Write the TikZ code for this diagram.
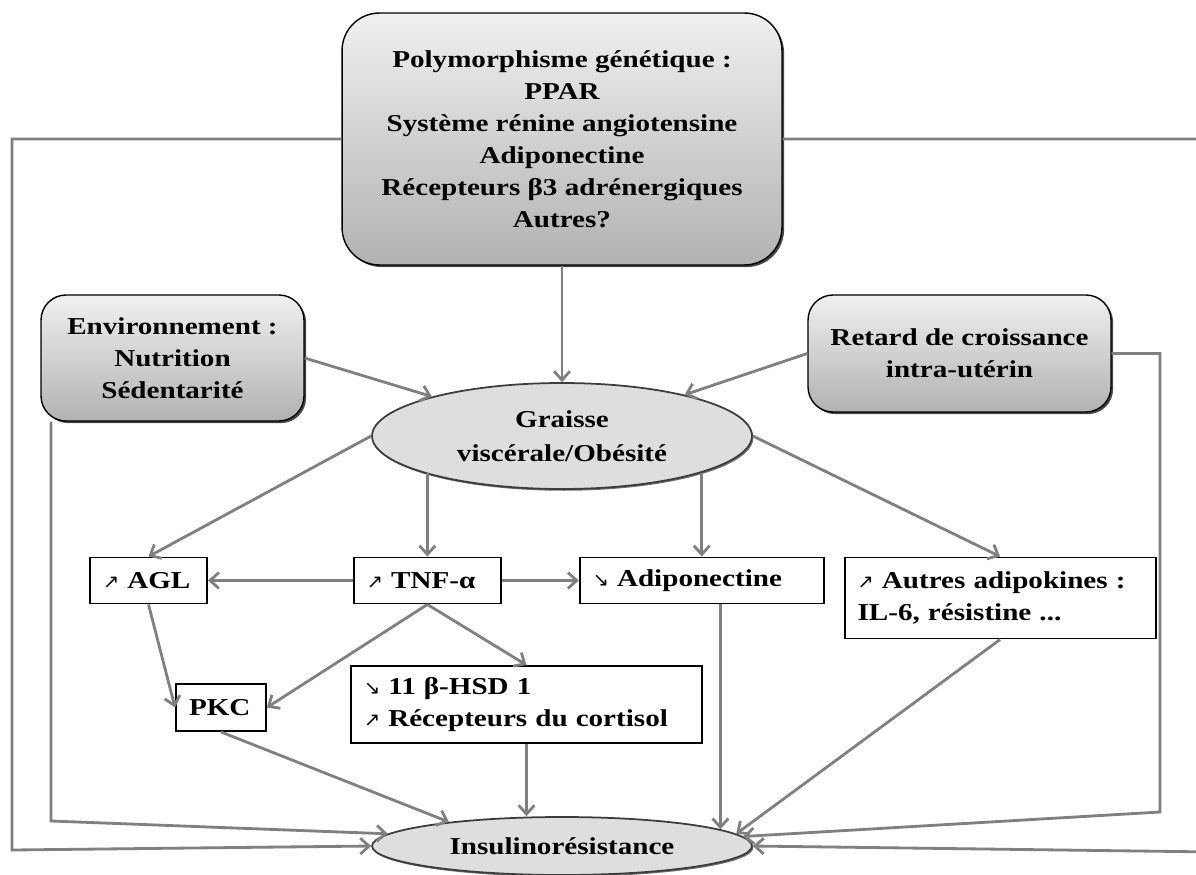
\documentclass[tikz,border=0pt]{standalone}
\usepackage{fontspec}
\setmainfont[FakeStretch=1.2]{Liberation Serif}
\newfontfamily\arrowfont{DejaVu Sans}
\usepackage{tikz}
\usetikzlibrary{
  arrows.meta,
  positioning,
  shapes.geometric,
  shadows
}
\tikzset{
  every node/.style={inner sep=2pt}
}
\definecolor{boxTop}{RGB}{240, 240, 240}
\definecolor{boxBottom}{RGB}{178, 178, 178}
\definecolor{ovalFill}{RGB}{222, 222, 222}
\definecolor{ovalBorder}{RGB}{60, 60, 60}
\definecolor{linkGray}{RGB}{128, 128, 128}

\newcommand{\arrUp}{{\arrowfont\mdseries\fontsize{11}{11}\selectfont ↗}}
\newcommand{\arrDown}{{\arrowfont\mdseries\fontsize{11}{11}\selectfont ↘}}

\begin{document}
\begin{tikzpicture}[
    x=0.02cm, y=-0.02cm,
    font=\fontsize{13.8}{18.2}\selectfont\bfseries,
    roundbox/.style={rectangle, draw=black, rounded corners=0.5cm, inner sep=4pt, align=center, line width=0.8pt, top color=boxTop, bottom color=boxBottom, drop shadow={shadow xshift=1.2pt, shadow yshift=-1.2pt, opacity=0.9, fill=black!80}},
    oval/.style={ellipse, draw=ovalBorder, line width=1pt, fill=ovalFill, inner sep=0pt, align=center, drop shadow={shadow xshift=0.8pt, shadow yshift=-1pt, opacity=0.8, fill=black!70}},
    rectbox/.style={rectangle, draw=black, fill=white, line width=1.1pt, inner xsep=0.26cm, inner ysep=3pt, align=left, minimum height=0.92cm},
    arrow/.style={-{Straight Barb[length=5pt, width=9pt]}, draw=linkGray, line width=1.6pt}
]

    \useasboundingbox (0,0) rectangle (1196,875);

    \node[roundbox, minimum width=8.8cm, minimum height=5.04cm, rounded corners=0.75cm] (poly) at (562,139) {
        Polymorphisme génétique :\\ PPAR\\ Système rénine angiotensine\\ Adiponectine\\ Récepteurs β3 adrénergiques\\ Autres?
    };

    \node[roundbox, minimum width=5.26cm, minimum height=2.52cm] (env) at (172.5,358) {
        Environnement :\\ Nutrition\\ Sédentarité
    };

    \node[roundbox, minimum width=6.06cm, minimum height=2.34cm] (rciu) at (959.5,353.5) {
        Retard de croissance\\ intra-utérin
    };

    \node[oval, minimum width=7.6cm, minimum height=2.12cm] (fat) at (562,436) {
        Graisse\\[1pt] viscérale/Obésité
    };


    \node[rectbox, text width=1.82cm] (agl) at (148.5,580.5) {\arrUp\ AGL};
    \node[rectbox, text width=2.42cm, right=2.9cm of agl] (tnf) {\arrUp\ TNF-α};
    \node[rectbox, text width=4.36cm, right=1.54cm of tnf] (adipo) {\arrDown\ Adiponectine};
    \node[rectbox, text width=5.7cm, minimum height=1.62cm, below right=0cm and 0.38cm of adipo.north east] (adipok) {
        \arrUp\ Autres adipokines :\\ IL-6, résistine ...
    };

    \node[rectbox, text width=1.28cm, minimum height=0.94cm] (pkc) at (221,707.5) {PKC};
    \node[rectbox, text width=6.5cm, minimum height=1.54cm] (hsd) at (526.5,704.5) {
        \arrDown\ 11 β-HSD 1\\ \arrUp\ Récepteurs du cortisol
    };

    \node[oval, minimum width=7.6cm, minimum height=1.16cm] (ir) at (562,846) {Insulinorésistance};


    % corners of the long links
    \coordinate (leftCorner) at (12,850);
    \coordinate (rightCorner) at (1215,852);
    \coordinate (envCorner) at (51,821);
    \coordinate (rciuCorner) at (1160,812);

    \draw[arrow] (poly) -- (fat);
    \draw[arrow] (env.east) -- (fat);
    \draw[arrow] (rciu.west) -- (fat);

    \draw[arrow] (fat.west) -- (agl.north);
    \draw[arrow] (tnf.north |- fat.195) -- (tnf.north);
    \draw[arrow] (adipo.north |- fat.345) -- (adipo.north);
    \draw[arrow] (fat.east) -- (adipok.north);

    \draw[arrow] (tnf.west) -- (agl.east);
    \draw[arrow] (tnf.east) -- (adipo.west);
    \draw[arrow] (agl.south) -- (pkc.west);
    \draw[arrow] (tnf.south) -- (pkc.east);
    \draw[arrow] (tnf.south) -- (hsd.north);

    \draw[arrow] (pkc.south) -- (ir.168);
    \draw[arrow] (hsd.south) -- (hsd.south |- ir.north);
    \draw[arrow] (adipo.south -| ir.6) -- (ir.6);
    \draw[arrow] (adipok.south) -- (ir.4.5);

    \draw[arrow] (poly.west) -| (leftCorner) -- (ir.west);
    \draw[arrow] (poly.east) -| (rightCorner) -- (ir.east);
    \draw[arrow] (env.south -| envCorner) -- (envCorner) -- (ir.176);
    \draw[arrow] (rciu.east) -| (rciuCorner) -- (ir.3);

\end{tikzpicture}
\end{document}
